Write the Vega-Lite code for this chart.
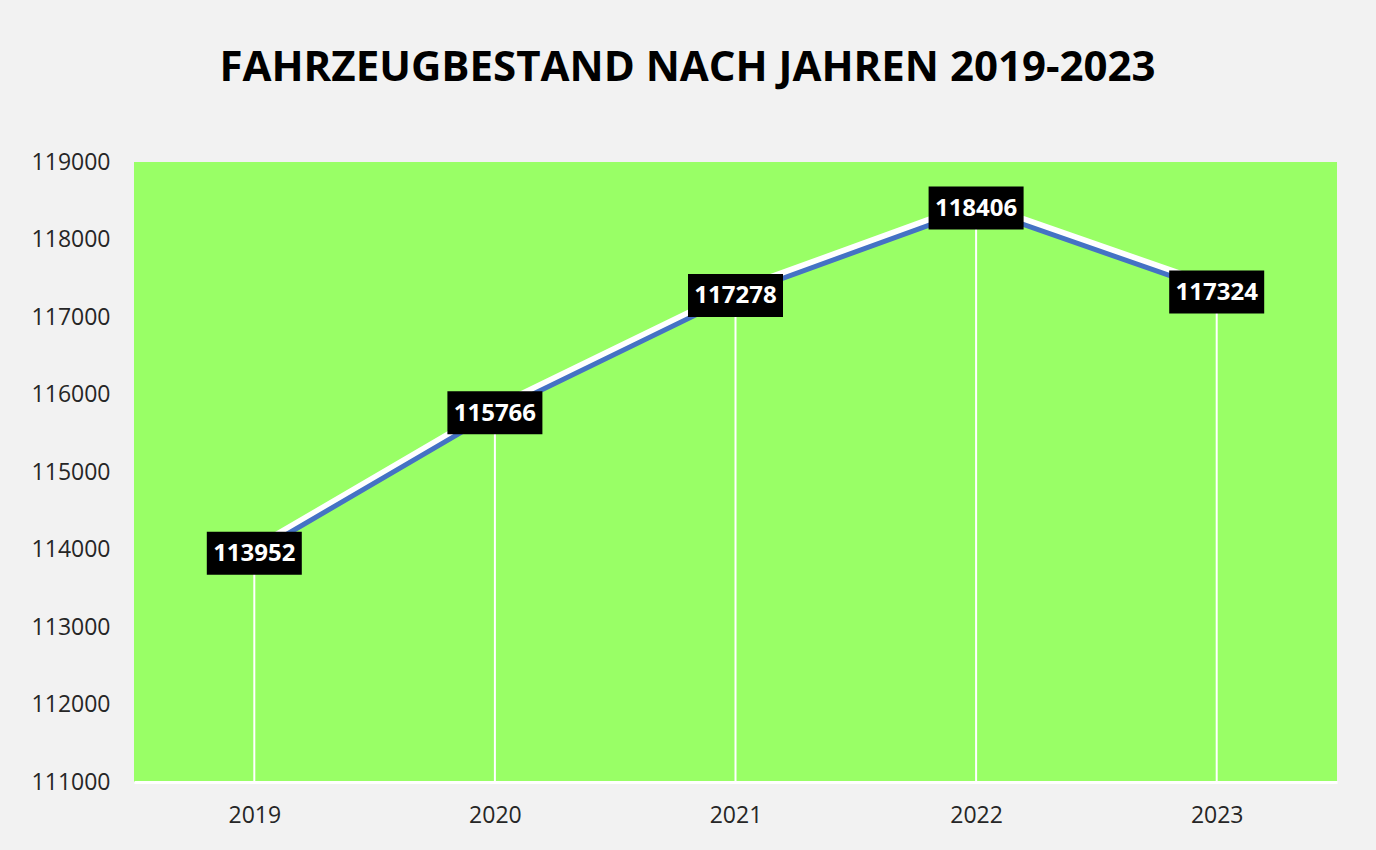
{
  "$schema": "https://vega.github.io/schema/vega-lite/v6.json",
  "width": 1203,
  "height": 620,
  "autosize": {"type": "none"},
  "padding": {"left": 134, "top": 162, "right": 39, "bottom": 68},
  "background": "#f2f2f2",
  "config": {
    "view": {"fill": "#99ff66", "stroke": null},
    "font": "Open Sans"
  },
  "title": {
    "text": "FAHRZEUGBESTAND NACH JAHREN 2019-2023",
    "font": "Open Sans",
    "fontWeight": "bold",
    "fontSize": 42,
    "color": "#000000",
    "anchor": "middle",
    "frame": "group",
    "dx": -48,
    "offset": 28,
    "baseline": "alphabetic"
  },
  "data": {
    "values": [
      {"year": "2019", "value": 113952},
      {"year": "2020", "value": 115766},
      {"year": "2021", "value": 117278},
      {"year": "2022", "value": 118406},
      {"year": "2023", "value": 117324}
    ]
  },
  "encoding": {
    "x": {
      "field": "year",
      "type": "ordinal",
      "scale": {"type": "point", "padding": 0.5},
      "axis": {
        "title": null,
        "labelAngle": 0,
        "ticks": false,
        "grid": false,
        "domainColor": "#ffffff",
        "domainWidth": 3,
        "labelFont": "Open Sans",
        "labelFontSize": 23,
        "labelColor": "#262626",
        "labelPadding": 22
      }
    },
    "y": {
      "field": "value",
      "type": "quantitative",
      "scale": {"domain": [111000, 119000], "nice": false, "zero": false},
      "axis": {
        "title": null,
        "values": [111000, 112000, 113000, 114000, 115000, 116000, 117000, 118000, 119000],
        "format": "d",
        "ticks": false,
        "grid": false,
        "domain": false,
        "labelFont": "Open Sans",
        "labelFontSize": 23,
        "labelColor": "#262626",
        "labelPadding": 24
      }
    }
  },
  "layer": [
    {
      "mark": {"type": "rule", "color": "#ffffff", "strokeWidth": 2},
      "encoding": {"y2": {"datum": 111000}}
    },
    {
      "mark": {"type": "line", "color": "#ffffff", "strokeWidth": 7, "yOffset": -5}
    },
    {
      "mark": {"type": "line", "color": "#4472c4", "strokeWidth": 5}
    },
    {
      "mark": {"type": "tick", "color": "#000000", "size": 95, "thickness": 43, "opacity": 1}
    },
    {
      "mark": {"type": "text", "color": "#ffffff", "font": "Open Sans", "fontWeight": "bold", "fontSize": 24, "dy": 1},
      "encoding": {"text": {"field": "value", "type": "quantitative", "format": "d"}}
    }
  ]
}
